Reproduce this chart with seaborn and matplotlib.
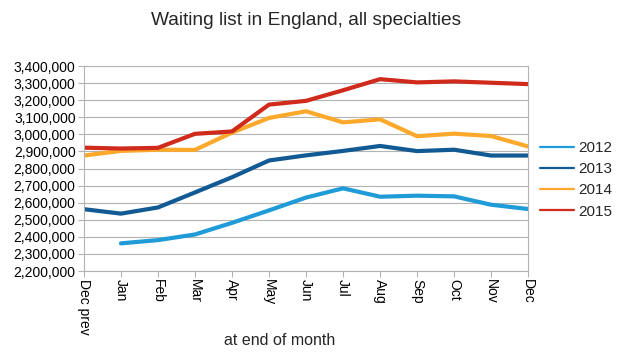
import numpy as np
import pandas as pd
import seaborn as sns
import matplotlib.pyplot as plt
from matplotlib.ticker import FuncFormatter

months = ['Dec prev', 'Jan', 'Feb', 'Mar', 'Apr', 'May', 'Jun',
          'Jul', 'Aug', 'Sep', 'Oct', 'Nov', 'Dec']
years = ['2012', '2013', '2014', '2015']
wl_2012 = [np.nan, 2362000, 2381000, 2414000, 2482000, 2555000, 2630000,
           2684000, 2635000, 2641000, 2637000, 2588000, 2563000]
wl_2013 = [2562000, 2536000, 2572000, 2660000, 2749000, 2847000, 2877000,
           2903000, 2932000, 2902000, 2910000, 2876000, 2876000]
wl_2014 = [2876000, 2903000, 2910000, 2909000, 3010000, 3096000, 3135000,
           3070000, 3088000, 2989000, 3004000, 2990000, 2929000]
wl_2015 = [2922000, 2917000, 2921000, 3003000, 3017000, 3174000, 3196000,
           3258000, 3323000, 3304000, 3310000, 3302000, 3294000]
colors = ['#1f9bd7', '#125a94', '#fca82b', '#cf2a1b']

df = pd.DataFrame({
    'month': list(range(len(months))) * 4,
    'waiting': wl_2012 + wl_2013 + wl_2014 + wl_2015,
    'year': np.repeat(years, len(months)),
})

sns.set_style('white')
plt.rcParams['font.family'] = ['Liberation Sans', 'DejaVu Sans']

fig = plt.figure(figsize=(6.17, 3.52), dpi=100)
ax = fig.add_axes([0.136, 0.23, 0.72, 0.5825])

sns.lineplot(data=df, x='month', y='waiting', hue='year', hue_order=years,
             palette=colors, linewidth=3.0, ax=ax, legend=False)

ax.set_xlim(0, len(months) - 1)
ax.set_ylim(2200000, 3400000)
ax.set_yticks(np.arange(2200000, 3400001, 100000))
ax.yaxis.set_major_formatter(FuncFormatter(lambda v, p: f'{int(v):,}'))
ax.set_xticks(range(len(months)))
ax.set_xticklabels(months, rotation=270, va='top', ha='center')
ax.tick_params(axis='both', labelsize=10, colors='#b3b3b3', labelcolor='black',
               length=4, width=0.8, direction='out', bottom=True, left=True, pad=2)
ax.grid(axis='y', color='#b3b3b3', linewidth=0.8)
for s in ax.spines.values():
    s.set_color('#b3b3b3')
    s.set_linewidth(0.8)
ax.set_ylabel('')
ax.set_xlabel('at end of month', fontsize=11.5)
ax.xaxis.set_label_coords(0.44, -0.30)
ax.set_title('Waiting list in England, all specialties', fontsize=13.8,
             x=0.5, y=1.16)

handles = [plt.Line2D([], [], color=c, linewidth=1.6) for c in colors]
ax.legend(handles, years, loc='center left', bbox_to_anchor=(1.027, 0.445),
          frameon=False, fontsize=11, handlelength=2.2, handletextpad=0.3,
          labelspacing=0.47, borderpad=0, borderaxespad=0)

fig.savefig('out.png', dpi=100)
